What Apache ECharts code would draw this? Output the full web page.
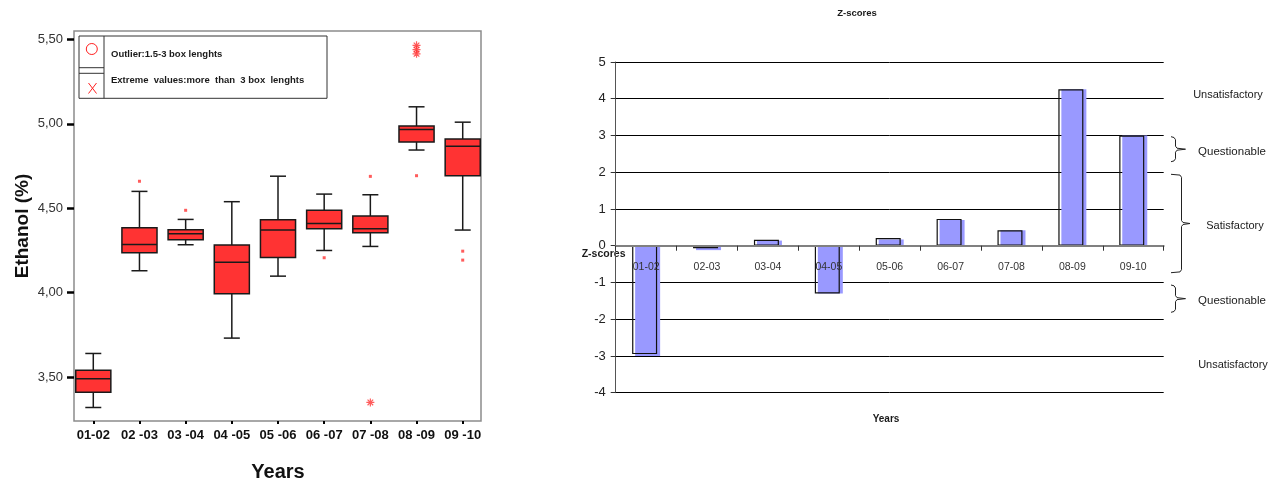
<!DOCTYPE html>
<html><head><meta charset="utf-8">
<script src="https://cdn.jsdelivr.net/npm/echarts@6/dist/echarts.min.js"></script>
<style>html,body{margin:0;padding:0;background:#fff}#c{width:1281px;height:483px}</style>
</head><body><div id="c"></div>
<script>
// ---------- Left chart: Ethanol box plots ----------
const years = ['01-02','02 -03','03 -04','04 -05','05 -06','06 -07','07 -08','08 -09','09 -10'];
const boxMin    = [3.32, 4.13, 4.284, 3.731, 4.098, 4.25, 4.274, 4.845, 4.371];
const boxQ1     = [3.41, 4.236, 4.313, 3.993, 4.209, 4.379, 4.355, 4.892, 4.693];
const boxMedian = [3.49, 4.286, 4.349, 4.18, 4.371, 4.41, 4.379, 4.967, 4.868];
const boxQ3     = [3.54, 4.385, 4.373, 4.282, 4.432, 4.489, 4.454, 4.987, 4.91];
const boxMax    = [3.64, 4.60, 4.434, 4.539, 4.69, 4.584, 4.58, 5.101, 5.01];
const outlierYear  = ['02 -03','03 -04','06 -07','07 -08','08 -09','09 -10','09 -10'];
const outlierValue = [4.66, 4.488, 4.207, 4.689, 4.693, 4.246, 4.193];
const extremeYear  = ['07 -08','08 -09','08 -09','08 -09'];
const extremeValue = [3.35, 5.465, 5.44, 5.415];
const ethTickValues = [3.5, 4.0, 4.5, 5.0, 5.5];
const ethTickLabels = ['3,50','4,00','4,50','5,00','5,50'];

// ---------- Right chart: Z-scores ----------
const zYears   = ['01-02','02-03','03-04','04-05','05-06','06-07','07-08','08-09','09-10'];
const zOutline = [-2.95, -0.07, 0.16, -1.30, 0.21, 0.73, 0.42, 4.26, 3.00];
const zFill    = [-3.00, -0.12, 0.14, -1.30, 0.17, 0.70, 0.42, 4.26, 3.00];
const zMin = -4, zMax = 5;

const FONT = "'Liberation Sans', Arial, sans-serif";
const NARROW = "'Liberation Sans Narrow', 'Liberation Sans', Arial, sans-serif";

const boxData = years.map((y, i) => [i, boxMin[i], boxQ1[i], boxMedian[i], boxQ3[i], boxMax[i]]);

function renderBox(params, api) {
  const i = api.value(0);
  const pMin = api.coord([i, api.value(1)]);
  const pQ1 = api.coord([i, api.value(2)]);
  const pMed = api.coord([i, api.value(3)]);
  const pQ3 = api.coord([i, api.value(4)]);
  const pMax = api.coord([i, api.value(5)]);
  const band = api.size([1, 0])[0];
  const bw = band * 0.76, cw = 16;
  const x = pMed[0];
  const ls = {stroke: '#1a1a1a', lineWidth: 1.5};
  return {type: 'group', children: [
    {type: 'line', shape: {x1: x, y1: pMax[1], x2: x, y2: pQ3[1]}, style: ls},
    {type: 'line', shape: {x1: x, y1: pQ1[1], x2: x, y2: pMin[1]}, style: ls},
    {type: 'line', shape: {x1: x - cw/2, y1: pMax[1], x2: x + cw/2, y2: pMax[1]}, style: ls},
    {type: 'line', shape: {x1: x - cw/2, y1: pMin[1], x2: x + cw/2, y2: pMin[1]}, style: ls},
    {type: 'rect', shape: {x: x - bw/2, y: pQ3[1], width: bw, height: pQ1[1] - pQ3[1]},
      style: {fill: '#ff3333', stroke: '#1a1a1a', lineWidth: 1.5}},
    {type: 'line', shape: {x1: x - bw/2, y1: pMed[1], x2: x + bw/2, y2: pMed[1]}, style: ls}
  ]};
}

function brace(x0, y0, y1, spine, tip) {
  const ym = (y0 + y1) / 2;
  const sx = x0 + spine, tx = x0 + tip;
  return {type: 'polyline', shape: {points: [
    [x0, y0], [sx - 1.5, y0 + 0.8], [sx, y0 + 3], [sx, ym - 3], [sx + 1.5, ym - 1], [tx, ym],
    [sx + 1.5, ym + 1], [sx, ym + 3], [sx, y1 - 3], [sx - 1.5, y1 - 0.8], [x0, y1]
  ]}, style: {stroke: '#222', lineWidth: 1, fill: null}};
}

function txt(x, y, text, size, weight, align, family) {
  return {type: 'text', x: x, y: y, style: {text: text, fontSize: size, fontWeight: weight || 'normal',
    fontFamily: family || FONT, fill: '#1a1a1a', align: align || 'center', verticalAlign: 'middle'}};
}

const zGridTop = 62, zGridHeight = 330.7;
const zZeroOffset = -(0 - zMin) / (zMax - zMin) * zGridHeight;

const chart = echarts.init(document.getElementById('c'), null, {renderer: 'canvas'});
chart.setOption({
  backgroundColor: '#fff',
  animation: false,
  grid: [
    {left: 70.2, top: 31, width: 415.6, height: 390, show: false, outerBoundsMode: 'none', containLabel: false},
    {left: 74, top: 31, width: 407, height: 390, show: true, borderColor: '#8c8c8c', borderWidth: 1.5, backgroundColor: 'rgba(0,0,0,0)', outerBoundsMode: 'none', containLabel: false},
    {left: 615.7, top: zGridTop, width: 548, height: zGridHeight, show: false, outerBoundsMode: 'none', containLabel: false}
  ],
  xAxis: [
    {gridIndex: 0, type: 'category', data: years, boundaryGap: true,
      axisLine: {show: false},
      axisTick: {show: true, alignWithLabel: true, length: 3, lineStyle: {color: '#000', width: 2}},
      axisLabel: {interval: 0, margin: 8, fontSize: 13, fontWeight: 'bold', color: '#111', fontFamily: FONT},
      name: 'Years', nameLocation: 'middle', nameGap: 41,
      nameTextStyle: {fontSize: 20, fontWeight: 'bold', color: '#111', fontFamily: FONT}},
    {gridIndex: 1, type: 'value', show: false},
    {gridIndex: 2, type: 'category', data: zYears, boundaryGap: true, position: 'bottom', offset: zZeroOffset, z: 10,
      axisLine: {show: true, onZero: false, lineStyle: {color: '#808080', width: 2}},
      axisTick: {show: true, interval: 0, length: 5, lineStyle: {color: '#333', width: 1}},
      axisLabel: {interval: 0, margin: 16, fontSize: 10.5, color: '#333', fontFamily: NARROW}}
  ],
  yAxis: [
    {gridIndex: 0, type: 'value', min: 3.24, max: 5.55, offset: -3.8,
      axisLine: {show: false},
      axisTick: {show: true, customValues: ethTickValues, length: 7, lineStyle: {color: '#000', width: 2.5}},
      axisLabel: {customValues: ethTickValues, margin: 11, fontSize: 13, color: '#333', fontFamily: FONT,
        formatter: v => { const k = ethTickValues.findIndex(t => Math.abs(t - v) < 1e-6); return k >= 0 ? ethTickLabels[k] : ''; }},
      splitLine: {show: false},
      name: 'Ethanol (%)', nameLocation: 'middle', nameGap: 42, nameRotate: 90,
      nameTextStyle: {fontSize: 19, fontWeight: 'bold', color: '#111', fontFamily: FONT}},
    {gridIndex: 1, type: 'value', show: false},
    {gridIndex: 2, type: 'value', min: zMin, max: zMax, interval: 1,
      axisLine: {show: true, lineStyle: {color: '#555', width: 1}},
      axisTick: {show: true, length: 5, lineStyle: {color: '#333'}},
      axisLabel: {margin: 10, fontSize: 13, color: '#222', fontFamily: FONT},
      splitLine: {show: true, lineStyle: {color: '#000', width: 1}}}
  ],
  series: [
    {type: 'custom', xAxisIndex: 0, yAxisIndex: 0, renderItem: renderBox, data: boxData,
      encode: {x: 0, y: [1, 2, 3, 4, 5]}, z: 2},
    {type: 'scatter', xAxisIndex: 0, yAxisIndex: 0, symbol: 'rect', symbolSize: [3, 3],
      itemStyle: {color: '#ff3333'}, data: outlierYear.map((y, i) => [y, outlierValue[i]]), z: 3},
    {type: 'scatter', xAxisIndex: 0, yAxisIndex: 0,
      symbol: 'path://M0,5L10,5M5,0L5,10M1.5,1.5L8.5,8.5M8.5,1.5L1.5,8.5', symbolSize: 8,
      itemStyle: {color: 'rgba(0,0,0,0)', borderColor: '#ff3333', borderWidth: 1.2},
      data: extremeYear.map((y, i) => [y, extremeValue[i]]), z: 3},
    {type: 'bar', xAxisIndex: 2, yAxisIndex: 2, data: zOutline, barWidth: 25, barGap: '-88%',
      itemStyle: {color: 'rgba(0,0,0,0)', borderColor: '#111', borderWidth: 1.2}, z: 4},
    {type: 'bar', xAxisIndex: 2, yAxisIndex: 2, data: zFill, barWidth: 25, barGap: '-88%',
      itemStyle: {color: '#9999ff'}, z: 3}
  ],
  graphic: [
    // legend of left chart
    {type: 'rect', shape: {x: 79, y: 36, width: 248, height: 62.3}, style: {fill: '#fff', stroke: '#333', lineWidth: 1}, z: 10},
    {type: 'line', shape: {x1: 104, y1: 36, x2: 104, y2: 98.3}, style: {stroke: '#333', lineWidth: 1}, z: 11},
    {type: 'line', shape: {x1: 79, y1: 67.7, x2: 104, y2: 67.7}, style: {stroke: '#333', lineWidth: 1}, z: 11},
    {type: 'line', shape: {x1: 79, y1: 73.3, x2: 104, y2: 73.3}, style: {stroke: '#333', lineWidth: 1}, z: 11},
    {type: 'circle', shape: {cx: 91.8, cy: 49, r: 5.5}, style: {fill: null, stroke: '#ff2020', lineWidth: 1}, z: 11},
    {type: 'line', shape: {x1: 88.5, y1: 83, x2: 96.5, y2: 93.5}, style: {stroke: '#ff2020', lineWidth: 1}, z: 11},
    {type: 'line', shape: {x1: 96.5, y1: 83, x2: 88.5, y2: 93.5}, style: {stroke: '#ff2020', lineWidth: 1}, z: 11},
    Object.assign(txt(111, 54.7, 'Outlier:1.5-3 box lenghts', 9.5, 'bold', 'left'), {z: 11}),
    Object.assign(txt(111, 80, 'Extreme  values:more  than  3 box  lenghts', 9.5, 'bold', 'left'), {z: 11}),
    // right chart texts
    txt(857, 13, 'Z-scores', 9.5, 'bold', 'center'),
    txt(581.7, 254, 'Z-scores', 10.5, 'bold', 'left'),
    txt(886, 419, 'Years', 10, 'bold', 'center'),
    txt(1228, 95, 'Unsatisfactory', 11, 'normal', 'center'),
    txt(1232, 152, 'Questionable', 11.5, 'normal', 'center'),
    txt(1235, 226, 'Satisfactory', 11, 'normal', 'center'),
    txt(1232, 301, 'Questionable', 11.5, 'normal', 'center'),
    txt(1233, 365, 'Unsatisfactory', 11, 'normal', 'center'),
    brace(1171, 136.7, 161.7, 4.5, 14.5),
    brace(1171, 174.3, 272.7, 10.5, 19),
    brace(1171, 285, 312.3, 4.5, 14.5)
  ]
});
</script></body></html>
